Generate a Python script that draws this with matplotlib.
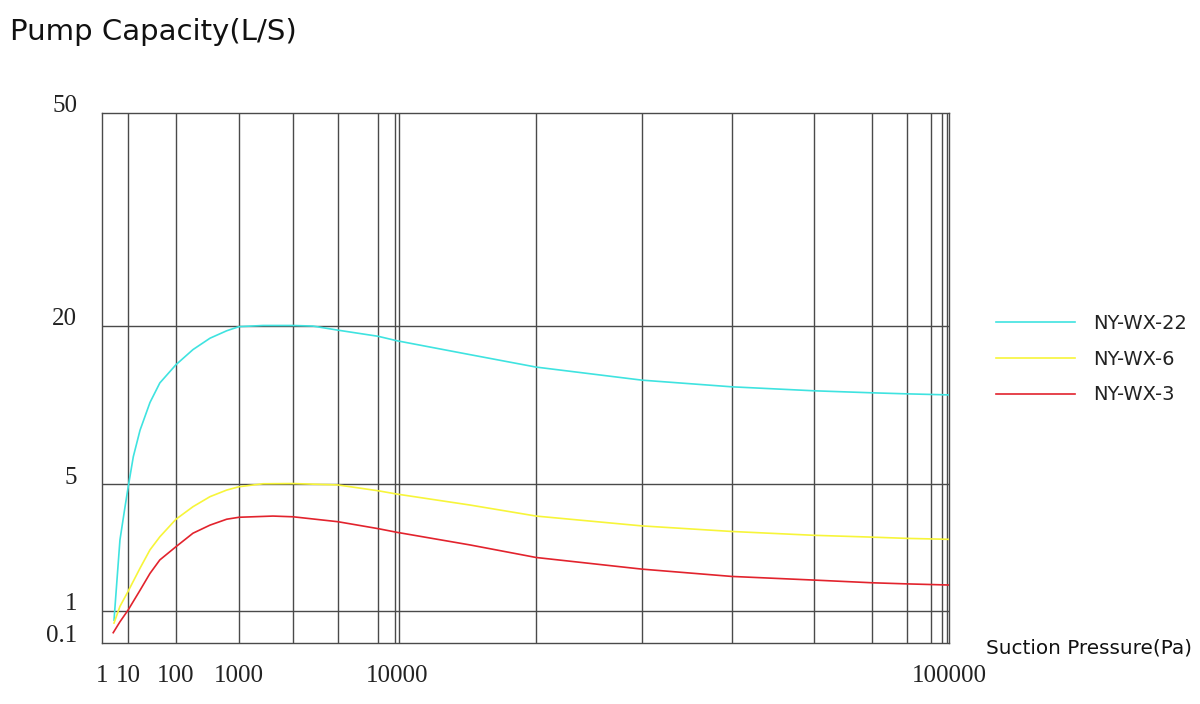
import numpy as np
import matplotlib
matplotlib.use("Agg")
import matplotlib.pyplot as plt
from matplotlib.transforms import ScaledTranslation

# ---------------- data ----------------
series_names = ["NY-WX-22", "NY-WX-6", "NY-WX-3"]

pressure_22 = [2.9, 3.7, 4.9, 7.7, 10, 12.9, 17.8, 28.7, 46, 100,
               186, 347, 638, 1000, 1420, 2200, 2940, 4230, 7590, 10000,
               13560, 17870, 27780, 40370, 56870, 72600, 83900, 100000]
capacity_22 = [0.52, 1.43, 2.46, 3.75, 4.75, 6.35, 8.0, 10.2, 12.1, 14.2,
               16.2, 17.9, 19.1, 19.8, 20.0, 20.0, 19.9, 19.2, 18.2, 17.5,
               15.5, 13.9, 12.4, 11.7, 11.3, 11.1, 11.0, 10.9]

pressure_6 = [2.9, 4.9, 10, 17.8, 28.7, 46, 100, 186, 347, 638,
              1000, 1420, 2200, 4230, 7590, 10000, 13560, 17870, 27780, 40370,
              56870, 72600, 83900, 100000]
capacity_6 = [0.42, 1.06, 1.28, 1.72, 2.17, 2.56, 3.20, 3.75, 4.26, 4.63,
              4.83, 5.01, 5.02, 4.94, 4.59, 4.40, 3.83, 3.33, 2.94, 2.74,
              2.61, 2.55, 2.51, 2.48]

pressure_3 = [2.7, 4.9, 10, 17.8, 28.7, 46, 100, 186, 347, 638,
              1000, 1640, 2200, 4230, 7590, 10000, 13560, 17870, 27780, 40370,
              56870, 72600, 83900, 100000]
capacity_3 = [0.21, 0.46, 1.01, 1.30, 1.61, 1.91, 2.26, 2.68, 2.97, 3.20,
              3.28, 3.33, 3.30, 3.10, 2.84, 2.71, 2.31, 1.97, 1.70, 1.55,
              1.48, 1.43, 1.41, 1.39]

x_ticks = [1, 10, 100, 1000, 10000, 100000]
x_tick_labels = ["1", "10", "100", "1000", "10000", "100000"]
y_ticks = [0.1, 1, 5, 20, 50]
y_tick_labels = ["0.1", "1", "5", "20", "50"]

x_grid = [10, 100, 1000, 2200, 4230, 7590, 9670, 10070, 17870, 27780,
          40370, 56870, 72600, 83900, 92660, 97100, 99040]
y_grid = [1, 5, 20]

# ---------------- custom (irregular) axis scales ----------------
X_ANCHOR_POS = np.array([0, 26, 74, 137, 295, 847], dtype=float)
Y_ANCHOR_POS = np.array([0, 32, 159, 317.5, 530], dtype=float)
X_ANCHOR_LOG = np.log10(np.array(x_ticks, dtype=float))
Y_ANCHOR_LOG = np.log10(np.array(y_ticks, dtype=float))


def x_fwd(v):
    v = np.clip(np.asarray(v, dtype=float), 1e-6, None)
    return np.interp(np.log10(v), X_ANCHOR_LOG, X_ANCHOR_POS)


def x_inv(p):
    return 10 ** np.interp(np.asarray(p, dtype=float), X_ANCHOR_POS, X_ANCHOR_LOG)


def y_fwd(v):
    v = np.clip(np.asarray(v, dtype=float), 1e-6, None)
    return np.interp(np.log10(v), Y_ANCHOR_LOG, Y_ANCHOR_POS)


def y_inv(p):
    return 10 ** np.interp(np.asarray(p, dtype=float), Y_ANCHOR_POS, Y_ANCHOR_LOG)


# ---------------- figure ----------------
W, H = 1200, 704
fig = plt.figure(figsize=(W / 100, H / 100), dpi=100)
fig.patch.set_facecolor("white")

ax_left, ax_right, ax_top, ax_bottom = 102, 949, 113, 643
ax = fig.add_axes([ax_left / W, 1 - ax_bottom / H,
                   (ax_right - ax_left) / W, (ax_bottom - ax_top) / H])

ax.set_xscale("function", functions=(x_fwd, x_inv))
ax.set_yscale("function", functions=(y_fwd, y_inv))
ax.set_xlim(1, 100000)
ax.set_ylim(0.1, 50)

grid_color = "#4a4a4a"
for gx in x_grid:
    ax.axvline(gx, color=grid_color, lw=1.0, zorder=1)
for gy in y_grid:
    ax.axhline(gy, color=grid_color, lw=1.0, zorder=1)
for sp in ax.spines.values():
    sp.set_color(grid_color)
    sp.set_linewidth(1.0)

colors = ["#3fe3e0", "#f7f53a", "#e2232d"]
ax.plot(pressure_22, capacity_22, color=colors[0], lw=1.2, label=series_names[0], zorder=3)
ax.plot(pressure_6, capacity_6, color=colors[1], lw=1.2, label=series_names[1], zorder=3)
ax.plot(pressure_3, capacity_3, color=colors[2], lw=1.2, label=series_names[2], zorder=3)

serif = ["Liberation Serif", "DejaVu Serif"]
ax.set_xticks(x_ticks)
ax.set_xticklabels(x_tick_labels, fontfamily=serif, fontsize=18, color="#222222")
ax.set_yticks(y_ticks)
ax.set_yticklabels(y_tick_labels, fontfamily=serif, fontsize=18, color="#222222")
ax.xaxis.set_minor_locator(matplotlib.ticker.NullLocator())
ax.yaxis.set_minor_locator(matplotlib.ticker.NullLocator())
ax.tick_params(axis="both", length=0)
ax.tick_params(axis="x", pad=16)
ax.tick_params(axis="y", pad=18)
shift_up = ScaledTranslation(0, 9 / 100, fig.dpi_scale_trans)
for lab in ax.get_yticklabels():
    lab.set_transform(lab.get_transform() + shift_up)

# titles
fig.text(10 / W, 1 - 40 / H, "Pump Capacity(L/S)", fontfamily="DejaVu Sans",
         fontsize=21, color="#111111", ha="left", va="baseline")
fig.text(986 / W, 1 - 654 / H, "Suction Pressure(Pa)", fontfamily="DejaVu Sans",
         fontsize=14.4, color="#111111", ha="left", va="baseline")

# legend
leg = ax.legend(loc="upper left", bbox_to_anchor=(996 / W, 1 - 314 / H),
                bbox_transform=fig.transFigure, frameon=False,
                borderaxespad=0, borderpad=0, handlelength=4.06,
                handletextpad=0.93, labelspacing=0.86,
                prop={"family": "DejaVu Sans", "size": 14})
for t in leg.get_texts():
    t.set_color("#222222")

fig.savefig("out.png", dpi=100, facecolor="white")
